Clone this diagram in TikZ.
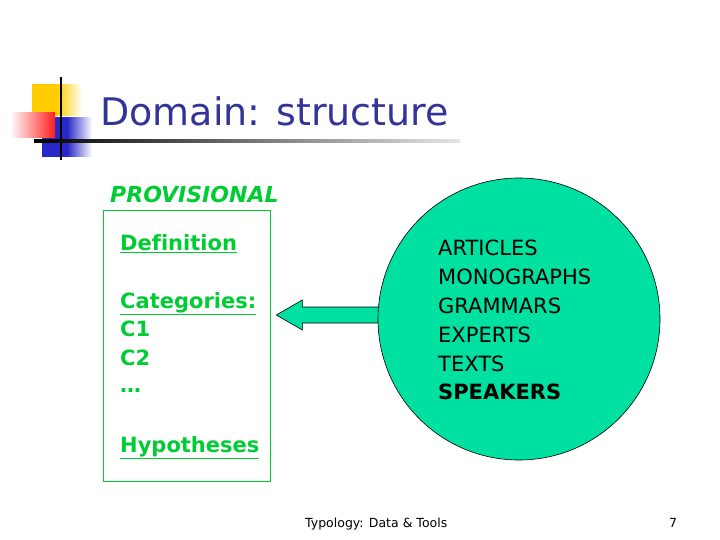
\documentclass[tikz,border=0pt]{standalone}
\usepackage{fontspec}
\setmainfont{DejaVu Sans}[Ligatures=NoCommon]
\usepackage{tikz}
\usetikzlibrary{calc}
\definecolor{titleblue}{RGB}{51,51,153}
\definecolor{provgreen}{RGB}{0,204,51}
\definecolor{poolgreen}{RGB}{0,224,160}
\definecolor{logoyellow}{RGB}{255,204,0}
\definecolor{logored}{RGB}{255,30,30}
\definecolor{logoblue}{RGB}{40,40,200}
\newcommand{\provline}[1]{\underline{#1}}
\tikzset{
         boxtext/.style=
          {
           anchor=base west,
           inner sep=0pt,
           text=provgreen,
           font=\fontsize{21}{25}\selectfont\bfseries
          },
         pooltext/.style=
          {
           anchor=base west,
           inner sep=0pt,
           font=\fontsize{21}{25}\selectfont
          },
         blockarrow/.style={fill=poolgreen,draw=black,line width=0.6pt}
        }

\begin{document}
\begin{tikzpicture}[x=1pt,y=-1pt]
      \useasboundingbox (0,0) rectangle (720,540); % slide
      \shade[left color=logoyellow,right color=white,middle color=logoyellow] (32,85) rectangle (82,116); % yellow square
      \shade[left color=logoblue,right color=white,middle color=logoblue] (42,118) rectangle (92,157); % blue square
      \shade[left color=white,right color=logored] (10,113) rectangle (55,138); % red bar
      \draw[line width=2.5pt] (61,77) -- (61,160); % logo vertical
      \shade[left color=black,right color=black!10] (34,139.8) rectangle (460,142.2); % title rule
      \node[anchor=base west,inner sep=0pt,text=titleblue,font=\fontsize{38}{40}\selectfont] (title) at (100,126) {Domain: structure}; % title
      \node[anchor=base west,inner sep=0pt,text=provgreen,font=\fontsize{22}{26}\selectfont\bfseries\itshape] (provlabel) at (110,203) {PROVISIONAL}; % box label
      \node[draw=provgreen,line width=0.6pt,minimum width=167pt,minimum height=271pt,inner sep=0pt] (prov) at (186.5,345.5) {}; % provisional box
      \node[boxtext] (definition) at (120,251) {\provline{Definition}};
      \node[boxtext] (categories) at (120,308) {\provline{Categories:}};
      \node[boxtext] (cone) at (120,336) {C1};
      \node[boxtext] (ctwo) at (120,365) {C2};
      \node[boxtext] (cdots) at (120,392) {\dots};
      \node[boxtext] (hypotheses) at (120,452) {\provline{Hypotheses}};
      \coordinate (tip) at ($(prov.east)+(6,-30.5)$); % arrow tip
      \draw[blockarrow] (tip) -- ++(26,-15) -- ++(0,7) -- ++(120,0) -- ++(0,16) -- ++(-120,0) -- ++(0,7) -- cycle; % arrow to box
      \node[circle,fill=poolgreen,draw=black,line width=0.6pt,minimum size=282pt,inner sep=0pt] (pool) at (519,319) {}; % sources
      \foreach \src [count=\i] in {ARTICLES,MONOGRAPHS,GRAMMARS,EXPERTS,TEXTS}
        \node[pooltext] (src\i) at (438,{255+29*(\i-1)}) {\src};
      \node[pooltext,font=\fontsize{21}{25}\selectfont\bfseries] (src6) at (438,399) {SPEAKERS};
      \node[anchor=base west,inner sep=0pt,font=\fontsize{12.5}{15}\selectfont] (footer) at (305,527) {Typology: Data \& Tools}; % footer
      \node[anchor=base west,inner sep=0pt,font=\fontsize{12.5}{15}\selectfont] (page) at (669,527) {7}; % page number
    \end{tikzpicture}
\end{document}
